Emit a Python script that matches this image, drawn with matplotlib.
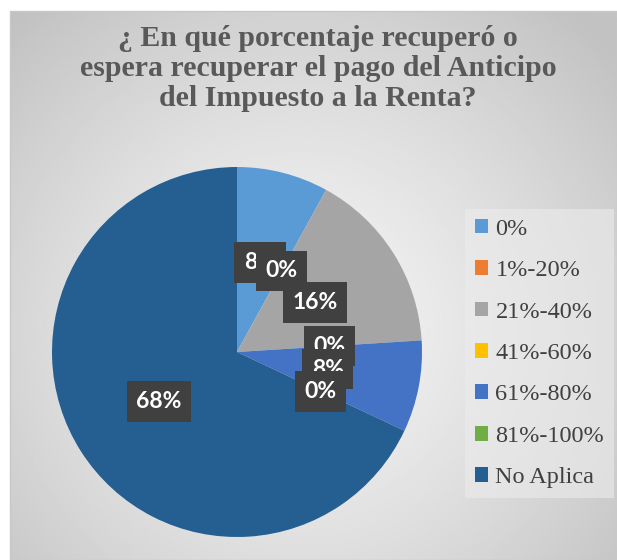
import numpy as np
import matplotlib
matplotlib.use("Agg")
import matplotlib.pyplot as plt
from matplotlib.patches import Rectangle

categories = ["0%", "1%-20%", "21%-40%", "41%-60%", "61%-80%", "81%-100%", "No Aplica"]
values = [8, 0, 16, 0, 8, 0, 68]
colors = ["#5b9bd5", "#ed7d31", "#a5a5a5", "#ffc000", "#4472c4", "#70ad47", "#255e91"]
title = "¿ En qué porcentaje recuperó o\nespera recuperar el pago del Anticipo\ndel Impuesto a la Renta?"

W, H = 617, 560
fig = plt.figure(figsize=(W / 100, H / 100), dpi=100)
fig.patch.set_facecolor("white")

# background panel with radial gradient
bg = fig.add_axes([0, 0, 1, 1])
bg.set_xlim(0, W)
bg.set_ylim(H, 0)
bg.axis("off")
x0, x1, y0, y1 = 10, W, 11, H
xx, yy = np.meshgrid(np.linspace(x0, x1, 300), np.linspace(y0, y1, 300))
cx, cy = 300, 330
d = np.sqrt(((xx - cx) / 420) ** 2 + ((yy - cy) / 420) ** 2)
d = np.clip(d, 0, 1)
light, dark = 0.96, 0.76
img = light - (light - dark) * d ** 1.3
bg.imshow(img, cmap="gray", vmin=0, vmax=1, extent=[x0, x1, y1, y0], aspect="auto", interpolation="bilinear")
bg.add_patch(Rectangle((x0, y0), x1 - x0, y1 - y0, fill=False, edgecolor="#c8c8c8", lw=1))

fig.text(318 / W, 1 - 25 / H, title, ha="center", va="top", fontsize=21.5,
         fontweight="bold", family="Liberation Serif", color="#595959", linespacing=1.15)

# pie
cxp, cyp, R = 237, 352, 185
ax = fig.add_axes([(cxp - R) / W, (H - cyp - R) / H, 2 * R / W, 2 * R / H])
ax.set_facecolor("none")
wedges, texts, autotexts = ax.pie(values, colors=colors, startangle=90, counterclock=False,
                                  radius=1, autopct=lambda p: f"{p:.0f}%", pctdistance=0.5,
                                  wedgeprops=dict(linewidth=0))
ax.set_xlim(-1, 1)
ax.set_ylim(-1, 1)
ax.set_aspect("equal")
ax.axis("off")
for i, t in enumerate(autotexts):
    t.set_color("white")
    t.set_fontsize(16.5)
    t.set_fontweight("bold")
    t.set_family("Lato")
    t.set_zorder(10 + i)
    t.set_bbox(dict(boxstyle="square,pad=0.42", facecolor="#404040", edgecolor="none"))

# legend
handles = [Rectangle((0, 0), 1, 1, facecolor=c, edgecolor="none") for c in colors]
leg = fig.legend(handles, categories, loc="upper left", bbox_to_anchor=(465 / W, 1 - 209 / H),
                 frameon=True, fancybox=False, prop=dict(family="Liberation Serif", size=17.5),
                 handlelength=0.55, handleheight=0.55, handletextpad=0.3, labelspacing=0.84,
                 borderpad=0.4, borderaxespad=0, labelcolor="#404040")
leg.get_frame().set_facecolor("#ececec")
leg.get_frame().set_edgecolor("none")
leg.get_frame().set_alpha(0.6)

fig.savefig("out.png", dpi=100)
